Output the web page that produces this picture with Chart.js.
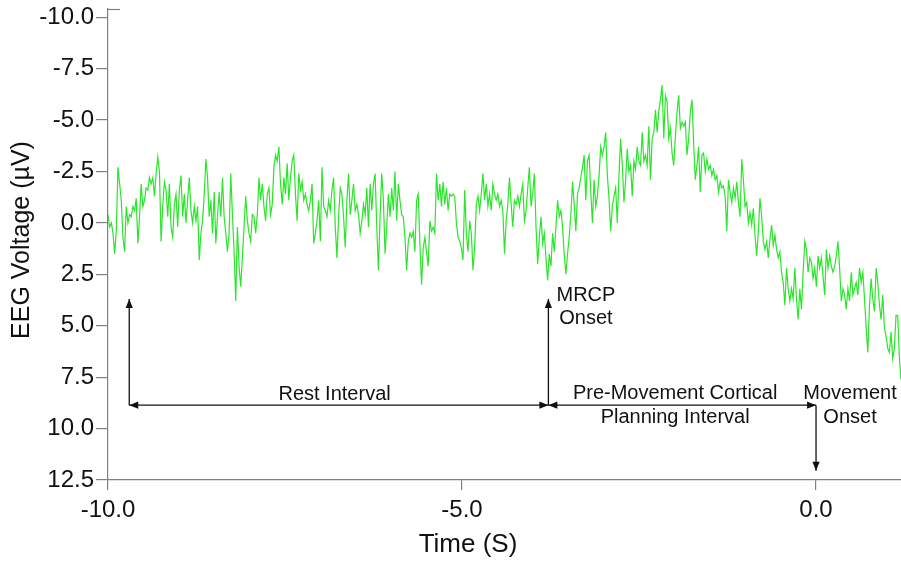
<!DOCTYPE html>
<html>
<head>
<meta charset="utf-8">
<title>EEG MRCP</title>
<style>
  html, body { margin: 0; padding: 0; background: #ffffff; }
  #wrap { width: 901px; height: 561px; }
</style>
<script src="https://cdn.jsdelivr.net/npm/chart.js@4.4.1/dist/chart.umd.min.js"></script>
</head>
<body>
<div id="wrap"><canvas id="chart" width="901" height="561"></canvas></div>
<script>
'use strict';

// ─── Data ────────────────────────────────────────────────────────────────────

// averaged EEG trace, evenly sampled from T_START to T_END (s), values in µV
const T_START = -10.0;
const T_END   = 1.2;

const EEG_UV = [
  -0.4, 0.2, 0.0, 0.5, 1.5, 0.4, -2.7, -1.9, -1.1, 0.7,
  1.4, -0.8, 0.0, -0.4, -0.3, -0.8, -0.6, -1.2, 1.0, -0.3,
  -1.9, -0.8, -1.1, -1.7, -1.6, -2.2, -1.9, -2.2, -1.3, -2.4,
  -3.2, -2.5, 0.9, -0.8, -2.0, -1.6, -0.3, -1.9, 0.2, 0.7,
  -0.9, -1.4, 0.2, -1.6, -2.3, -0.3, -1.4, 0.0, -1.1, -2.2,
  -0.6, 0.0, -0.8, -0.1, -0.8, 1.8, 0.5, -0.1, -1.4, -3.1,
  -2.2, -0.3, -1.1, 0.5, -1.5, 1.0, -0.3, -1.5, -0.3, -2.2,
  -0.3, 0.5, 1.4, 0.5, -2.4, -0.4, 1.4, 3.8, 0.2, 2.1,
  3.1, 1.7, 0.2, -1.3, -0.1, 0.5, 0.9, -0.4, -0.3, 0.5,
  -0.4, -2.2, -1.1, -1.9, -0.8,
  -0.1, -1.4, -1.7, -0.4, -0.9, -2.7, -3.3, -3.0, -3.7, -1.9,
  -0.9, -2.2, -1.4, -2.9, -1.1, -2.2, -3.0, -3.3, -1.4, -0.1,
  -2.4, -1.6, -2.0, -1.1, -1.4, -0.9, -0.6, -1.1, -1.9, 1.0,
  0.5, -0.1, -1.1, 0.9, -2.7, -0.8, -0.6, -0.3, -1.1, -0.6,
  -1.6, -2.2, 0.2, 1.7, -0.3, -1.7, -1.4, -0.3, 1.2, -1.1,
  -2.4, -0.4, -1.1, -1.9, -0.6, -0.9, -0.4, 0.5, -0.1, -0.9,
  -0.4, -1.7, 0.2, -1.9, -0.6, -1.9, -2.4, 0.2, 2.3, -0.3,
  -2.4, -1.1, 1.5, 0.2, -1.4, -0.3, -1.7, -0.6, -2.5, -0.1,
  -1.9, -1.1, -0.4, -0.3, 0.7, 2.3, 0.9, 0.5, 0.7, 0.4,
  1.4, -1.1, -1.4, 1.0, 3.0, 1.2, 0.7, 1.4,
  2.1, -0.1, 0.4, 0.2, 0.5, -2.4, -1.1, -1.9, -0.8, -2.0,
  -0.9, -1.7, -0.6, -1.4, -1.3, -1.4, -1.3, 0.0, 0.7, 0.9,
  1.2, 1.8, -1.6, 0.5, 1.4, -0.1, 0.5, 2.3, 1.2, -0.9,
  -1.3, -0.6, -1.4, -2.4, -1.1, -1.9, -0.8, -1.4, -0.6, -1.9,
  -1.4, -1.1, -1.4, -0.8, -1.1, -0.6, 1.5, -0.1, -0.9, -2.2,
  -0.9, 0.2, -1.1, -0.9, -1.3, -0.8, -1.4, -1.9, -0.1, -0.6,
  -1.7, -2.7, -0.8, -1.4, -2.4, 0.2, 2.0, 0.7, -0.3, 1.0,
  0.5, 1.7, 2.8, 1.5, 2.1, 0.5, 1.4, 0.2, -1.1, -0.3,
  -0.6, 0.2, 1.5, 2.5, 1.5, 0.7, -0.4, -2.0, -0.9, 0.4,
  -1.4, -1.7, -2.2, -2.7, -3.3, -1.1, -3.0,
  -3.3, -1.5, 0.0, -2.1, -0.8, -1.3, -2.3, -3.7, -3.3, -3.7,
  -4.4, -2.3, -1.2, 0.4, -0.8, -1.3, -1.7, 0.0, -2.3, -4.1,
  -2.8, -1.0, -2.1, -3.6, -2.5, -2.8, -1.3, -3.0, -2.6, -3.7,
  -3.0, -2.8, -4.4, -3.0, -3.3, -2.8, -4.7, -2.1, -4.1, -4.4,
  -5.5, -4.4, -5.4, -6.0, -6.7, -4.1, -6.2, -5.9, -4.1, -4.6,
  -3.4, -2.8, -4.2, -5.4, -6.2, -4.6, -4.9, -4.7, -4.9, -3.3,
  -4.1, -5.4, -6.0, -3.9, -2.1, -2.8, -3.7, -1.5, -3.3, -3.4,
  -2.5, -3.1, -2.6, -2.8, -2.3, -2.6, -2.1, -2.3, -1.5, -2.0,
  -1.7, -1.8, -1.3, 0.4, -2.1, -1.5, -1.0, -1.7, -1.2, -2.0,
  -1.0, -0.3, -3.1, -2.1, -0.8, -1.0, 0.0, -0.5,
  0.1, -0.7, 0.6, 1.6, 0.4, -1.2, -0.3, 0.9, 1.3, 0.9,
  1.7, 0.8, 0.1, 1.1, 0.6, 1.3, 1.7, 1.4, 2.4, 2.9,
  4.0, 2.2, 3.2, 3.8, 3.2, 3.7, 2.2, 3.7, 4.7, 3.2,
  4.2, 2.4, 0.9, 1.3, 2.4, 1.7, 1.9, 2.7, 2.2, 3.1,
  1.6, 2.2, 1.7, 2.6, 3.5, 1.3, 2.2, 1.6, 2.1, 2.4,
  2.1, 1.6, 0.9, 2.2, 3.8, 3.2, 3.5, 4.2, 3.2, 3.8,
  2.4, 3.5, 3.2, 2.9, 3.5, 2.2, 2.9, 2.4, 3.7, 5.1,
  6.3, 4.0, 2.7, 3.7, 4.3, 2.2, 2.9, 4.0, 4.7, 3.5,
  5.1, 5.5, 6.1, 6.3, 5.3, 6.6, 6.1, 4.5, 4.5, 6.5,
  7.6,
];

const X_TICKS = [-10, -5, 0];
const Y_TICKS = [-10, -7.5, -5, -2.5, 0, 2.5, 5, 7.5, 10, 12.5];

// event markers, in data units (s, µV)
const MRCP_ONSET     = -3.78;
const MOVEMENT_ONSET = 0.0;
const REST_START     = -9.70;
const BRACKET_LEVEL  = 8.86;
const ARROW_TOP      = 3.70;
const ARROW_BOTTOM   = 12.05;

const NOTES = [
  { text: 'Rest Interval',         x: -6.80, y: 8.62 },
  { text: 'Pre-Movement Cortical', x: -1.99, y: 8.57 },
  { text: 'Planning Interval',     x: -1.99, y: 9.74 },
  { text: 'MRCP',                  x: -3.25, y: 3.80 },
  { text: 'Onset',                 x: -3.25, y: 4.92 },
  { text: 'Movement',              x: 0.48,  y: 8.57 },
  { text: 'Onset',                 x: 0.48,  y: 9.74 },
];

// ─── Styling ─────────────────────────────────────────────────────────────────

const FONT  = "'Liberation Sans', Arial, sans-serif";
const INK   = '#111111';
const AXIS  = '#808080';
const TRACE = '#2ae62a';

// ─── Annotation drawing ──────────────────────────────────────────────────────

function arrowHead(ctx, fx, fy, tx, ty) {
  const a = Math.atan2(ty - fy, tx - fx);
  const L = 9, W = 3.6;
  const bx = tx - L * Math.cos(a), by = ty - L * Math.sin(a);
  ctx.beginPath();
  ctx.moveTo(tx, ty);
  ctx.lineTo(bx + W * Math.sin(a), by - W * Math.cos(a));
  ctx.lineTo(bx - W * Math.sin(a), by + W * Math.cos(a));
  ctx.closePath();
  ctx.fill();
}

function arrows() {
  return [
    { from: [REST_START, BRACKET_LEVEL],     to: [REST_START, ARROW_TOP],        both: false },
    { from: [REST_START, BRACKET_LEVEL],     to: [MRCP_ONSET, BRACKET_LEVEL],    both: true  },
    { from: [MRCP_ONSET, BRACKET_LEVEL],     to: [MRCP_ONSET, ARROW_TOP],        both: false },
    { from: [MRCP_ONSET, BRACKET_LEVEL],     to: [MOVEMENT_ONSET, BRACKET_LEVEL], both: true },
    { from: [MOVEMENT_ONSET, BRACKET_LEVEL], to: [MOVEMENT_ONSET, ARROW_BOTTOM], both: false },
  ];
}

const overlay = {
  id: 'overlay',
  afterDatasetsDraw(chart) {
    const { ctx, scales: { x, y } } = chart;
    ctx.save();
    ctx.strokeStyle = INK;
    ctx.fillStyle = INK;
    ctx.lineWidth = 1.3;
    arrows().forEach(a => {
      const x1 = x.getPixelForValue(a.from[0]), y1 = y.getPixelForValue(a.from[1]);
      const x2 = x.getPixelForValue(a.to[0]),   y2 = y.getPixelForValue(a.to[1]);
      ctx.beginPath();
      ctx.moveTo(x1, y1);
      ctx.lineTo(x2, y2);
      ctx.stroke();
      arrowHead(ctx, x1, y1, x2, y2);
      if (a.both) arrowHead(ctx, x2, y2, x1, y1);
    });

    ctx.font = `20px ${FONT}`;
    ctx.textAlign = 'center';
    ctx.textBaseline = 'alphabetic';
    NOTES.forEach(n => {
      ctx.fillText(n.text, x.getPixelForValue(n.x), y.getPixelForValue(n.y));
    });
    ctx.restore();
  },
  afterDraw(chart) {
    const { ctx, chartArea, scales: { x } } = chart;
    ctx.save();
    // small stub at the top of the value axis
    ctx.strokeStyle = AXIS;
    ctx.lineWidth = 1.2;
    ctx.beginPath();
    ctx.moveTo(chartArea.left, chartArea.top + 0.5);
    ctx.lineTo(chartArea.left + 12, chartArea.top + 0.5);
    ctx.stroke();

    // axis titles
    ctx.fillStyle = INK;
    ctx.textAlign = 'center';
    ctx.textBaseline = 'middle';
    ctx.font = `26px ${FONT}`;
    const midX = (x.getPixelForValue(X_TICKS[0]) + x.getPixelForValue(X_TICKS[X_TICKS.length - 1])) / 2 + 6;
    ctx.fillText('Time (S)', midX, 545);

    ctx.font = `25px ${FONT}`;
    ctx.translate(22, 240);
    ctx.rotate(-Math.PI / 2);
    ctx.fillText('EEG Voltage (µV)', 0, 0);
    ctx.restore();
  },
};

// ─── Chart ───────────────────────────────────────────────────────────────────

const dt = (T_END - T_START) / (EEG_UV.length - 1);
const points = EEG_UV.map((v, i) => ({ x: T_START + i * dt, y: v }));

const tickFont = { family: FONT, size: 24 };

new Chart(document.getElementById('chart'), {
  type: 'line',
  data: {
    datasets: [{
      data: points,
      borderColor: TRACE,
      borderWidth: 1.2,
      pointRadius: 0,
      tension: 0,
      fill: false,
    }],
  },
  options: {
    responsive: false,
    animation: false,
    devicePixelRatio: 1,
    layout: { padding: { top: 9, right: 0, bottom: 0, left: 0 } },
    plugins: {
      legend: { display: false },
      tooltip: { enabled: false },
    },
    scales: {
      x: {
        type: 'linear',
        min: T_START,
        max: T_END,
        afterBuildTicks: s => { s.ticks = X_TICKS.map(v => ({ value: v })); },
        afterFit: s => { s.height = 81; s.paddingLeft = 0; s.paddingRight = 0; },
        ticks: {
          font: tickFont,
          color: INK,
          padding: 6,
          maxRotation: 0,
          callback: v => v.toFixed(1),
        },
        grid: { drawOnChartArea: false, drawTicks: true, tickLength: 10, color: AXIS, lineWidth: 1.2 },
        border: { display: true, color: AXIS, width: 1.2 },
      },
      y: {
        type: 'linear',
        reverse: true,
        min: -10.4,
        max: 12.5,
        afterBuildTicks: s => { s.ticks = Y_TICKS.map(v => ({ value: v })); },
        afterFit: s => { s.width = 108; s.paddingTop = 0; s.paddingBottom = 0; },
        ticks: {
          font: tickFont,
          color: INK,
          padding: 2,
          callback: v => v.toFixed(1),
        },
        grid: { drawOnChartArea: false, drawTicks: true, tickLength: 12, color: AXIS, lineWidth: 1.2 },
        border: { display: true, color: AXIS, width: 1.2 },
      },
    },
  },
  plugins: [overlay],
});
</script>
</body>
</html>
